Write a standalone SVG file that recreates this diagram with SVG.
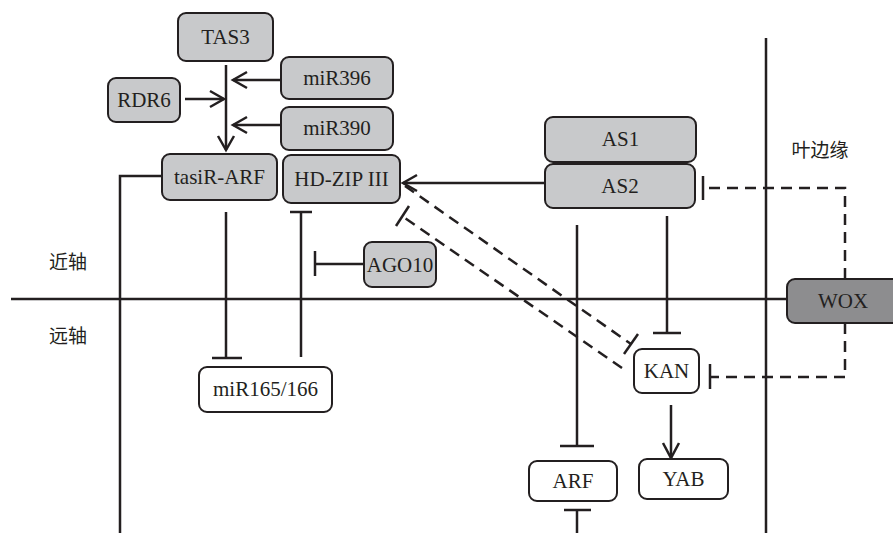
<svg xmlns="http://www.w3.org/2000/svg" width="893" height="533" viewBox="0 0 893 533">
  <style>
    .box { fill: #c8c9cb; stroke: #231f20; stroke-width: 2; }
    .wbox { fill: #ffffff; stroke: #231f20; stroke-width: 2; }
    .dbox { fill: #8d8d8f; stroke: #231f20; stroke-width: 2; }
    .lbl { font-family: 'Liberation Serif', 'DejaVu Serif', serif; font-size: 21px; fill: #231f20; text-anchor: middle; }
    .cjk { font-family: 'Noto Sans CJK SC', sans-serif; font-size: 19px; fill: #231f20; text-anchor: middle; }
    .ln { fill: none; stroke: #231f20; stroke-width: 2.5; }
    .dash { fill: none; stroke: #231f20; stroke-width: 2.5; stroke-dasharray: 11 7; }
  </style>
  <rect width="893" height="533" fill="#ffffff"/>

  <!-- region labels -->
  <text class="cjk" x="68" y="269">近轴</text>
  <text class="cjk" x="68" y="343">远轴</text>
  <text class="cjk" x="820" y="157">叶边缘</text>

  <!-- connectors -->
  <g id="connectors">
    <!-- axis lines -->
    <line class="ln" x1="11" y1="299" x2="787" y2="299"/>
    <line class="ln" x1="766" y1="38" x2="766" y2="533"/>
    <polyline class="ln" points="162,176 120,176 120,533"/>

    <!-- TAS3 to tasiR-ARF -->
    <line class="ln" x1="226" y1="65" x2="226" y2="150"/>
    <polyline class="ln" points="218,136 226,150 234,136"/>
    <!-- miR396 -->
    <line class="ln" x1="281" y1="80" x2="233" y2="80"/>
    <polyline class="ln" points="247,72 233,80 247,88"/>
    <!-- RDR6 -->
    <line class="ln" x1="185" y1="99" x2="224" y2="99"/>
    <polyline class="ln" points="210,91 224,99 210,107"/>
    <!-- miR390 -->
    <line class="ln" x1="281" y1="125" x2="233" y2="125"/>
    <polyline class="ln" points="247,117 233,125 247,133"/>

    <!-- AS2 to HD-ZIP III -->
    <line class="ln" x1="545" y1="183" x2="403" y2="183"/>
    <polyline class="ln" points="417,175 403,183 417,191"/>

    <!-- tasiR-ARF -| miR165/166 -->
    <line class="ln" x1="226" y1="212" x2="226" y2="358"/>
    <line class="ln" x1="212" y1="358" x2="242" y2="358"/>
    <!-- miR165/166 -| HD-ZIP III -->
    <line class="ln" x1="301" y1="357" x2="301" y2="212"/>
    <line class="ln" x1="290" y1="212" x2="312" y2="212"/>
    <!-- AGO10 -| -->
    <line class="ln" x1="364" y1="264" x2="315" y2="264"/>
    <line class="ln" x1="315" y1="251" x2="315" y2="276"/>

    <!-- AS1/AS2 -| ARF -->
    <line class="ln" x1="577" y1="225" x2="577" y2="446"/>
    <line class="ln" x1="560" y1="446" x2="594" y2="446"/>
    <!-- AS1/AS2 -| KAN -->
    <line class="ln" x1="667" y1="216" x2="667" y2="333"/>
    <line class="ln" x1="653" y1="333" x2="681" y2="333"/>
    <!-- KAN to YAB -->
    <line class="ln" x1="671" y1="405" x2="671" y2="458"/>
    <polyline class="ln" points="663,443 671,458 679,443"/>
    <!-- ARF bottom -->
    <line class="ln" x1="577" y1="510" x2="577" y2="533"/>
    <line class="ln" x1="564" y1="510" x2="591" y2="510"/>

    <!-- HD-ZIP III -| KAN (dashed) -->
    <line class="dash" x1="405" y1="186" x2="631" y2="344"/>
    <line class="ln" x1="624" y1="354" x2="638" y2="334"/>
    <!-- KAN -| HD-ZIP III (dashed) -->
    <line class="dash" x1="622" y1="368" x2="402" y2="216"/>
    <line class="ln" x1="396" y1="226" x2="409" y2="206"/>

    <!-- WOX -| AS2 -->
    <polyline class="dash" points="845,279 845,188 703,188"/>
    <line class="ln" x1="703" y1="176" x2="703" y2="200"/>
    <!-- WOX -| KAN -->
    <polyline class="dash" points="845,323 845,377 710,377"/>
    <line class="ln" x1="710" y1="364" x2="710" y2="389"/>
  </g>

  <!-- nodes -->
  <g id="TAS3"><rect class="box" x="178" y="13" width="95" height="48" rx="8"/><text class="lbl" x="225.5" y="44">TAS3</text></g>
  <g id="miR396"><rect class="box" x="281" y="57" width="112" height="42" rx="8"/><text class="lbl" x="337" y="85">miR396</text></g>
  <g id="miR390"><rect class="box" x="281" y="107" width="112" height="43" rx="8"/><text class="lbl" x="337" y="135">miR390</text></g>
  <g id="RDR6"><rect class="box" x="108" y="78" width="72" height="44" rx="8"/><text class="lbl" x="144" y="107">RDR6</text></g>
  <g id="tasiR-ARF"><rect class="box" x="162" y="154" width="115" height="46" rx="8"/><text class="lbl" x="219.5" y="184">tasiR-ARF</text></g>
  <g id="HD-ZIP-III"><rect class="box" x="283" y="155" width="117" height="48" rx="8"/><text class="lbl" x="341.5" y="186">HD-ZIP III</text></g>
  <g id="AGO10"><rect class="box" x="364" y="242" width="72" height="45" rx="8"/><text class="lbl" x="400" y="272">AGO10</text></g>
  <g id="AS1"><rect class="box" x="545" y="117" width="151" height="45" rx="8"/><text class="lbl" x="620.5" y="146">AS1</text></g>
  <g id="AS2"><rect class="box" x="545" y="164" width="150" height="44" rx="8"/><text class="lbl" x="620" y="193">AS2</text></g>
  <g id="WOX"><rect class="dbox" x="787" y="279" width="120" height="44" rx="8"/><text class="lbl" x="843" y="308">WOX</text></g>
  <g id="miR165-166"><rect class="wbox" x="199" y="367" width="133" height="45" rx="8"/><text class="lbl" x="265.5" y="396">miR165/166</text></g>
  <g id="KAN"><rect class="wbox" x="634" y="349" width="65" height="44" rx="8"/><text class="lbl" x="666.5" y="378">KAN</text></g>
  <g id="ARF"><rect class="wbox" x="529" y="461" width="88" height="40" rx="8"/><text class="lbl" x="573" y="488">ARF</text></g>
  <g id="YAB"><rect class="wbox" x="639" y="459" width="89" height="40" rx="8"/><text class="lbl" x="683.5" y="486">YAB</text></g>
</svg>
